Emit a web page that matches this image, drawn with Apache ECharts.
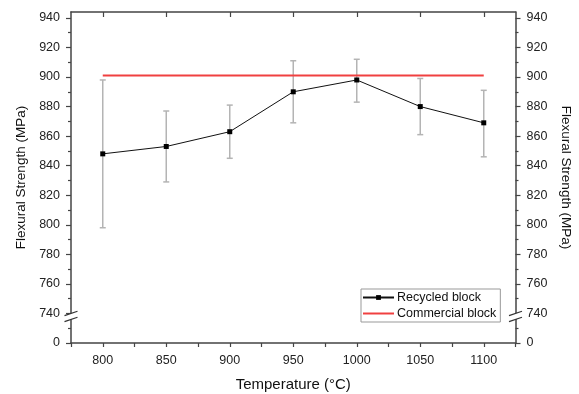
<!DOCTYPE html>
<html><head><meta charset="utf-8">
<script src="https://cdn.jsdelivr.net/npm/echarts@6/dist/echarts.min.js"></script>
<style>html,body{margin:0;padding:0;background:#fff}#c{width:579px;height:394px}</style>
</head><body><div id="c"></div>
<script>
// ---- data ----
const temperatures = [800, 850, 900, 950, 1000, 1050, 1100];
const recycled = [848, 853, 863, 890, 898, 880, 869];
const errLow = [798, 829, 845, 869, 883, 861, 846];
const errHigh = [898, 877, 881, 911, 912, 899, 891];
const commercialValue = 901;
const commercialRange = [800, 1100];
const xTickLabels = ['800', '850', '900', '950', '1000', '1050', '1100'];
const yTickLabels = ['0', '740', '760', '780', '800', '820', '840', '860', '880', '900', '920', '940'];
const yTickValues = [720, 740, 760, 780, 800, 820, 840, 860, 880, 900, 920, 940]; // 720 stands for the broken "0"
const breakValue = 738;

const FONT = 'Liberation Sans, Arial, sans-serif';
const axisColor = '#444';

const yLabelMap = {};
yTickValues.forEach((v, i) => { yLabelMap[v] = yTickLabels[i]; });
const xLabelMap = {};
temperatures.forEach((v, i) => { xLabelMap[v] = xTickLabels[i]; });

function yAxisDef(pos) {
  return {
    type: 'value', position: pos, min: 720, max: 944, interval: 20,
    name: 'Flexural Strength (MPa)', nameLocation: 'middle',
    nameGap: pos === 'left' ? 40 : 37,
    nameRotate: pos === 'left' ? 90 : -90,
    nameTextStyle: { fontFamily: FONT, fontSize: 13.5, color: '#111' },
    axisLine: { show: true, onZero: false, lineStyle: { color: axisColor, width: 1.5 } },
    axisTick: { show: true, inside: false, length: 5, customValues: yTickValues, lineStyle: { color: axisColor, width: 1.2 } },
    minorTick: { show: true, splitNumber: 2, length: 3, lineStyle: { color: axisColor, width: 1.2 } },
    axisLabel: { show: true, margin: 11, customValues: yTickValues, fontFamily: FONT, fontSize: 12.5, color: '#222',
      formatter: v => (yLabelMap[v] !== undefined ? yLabelMap[v] : '') },
    splitLine: { show: false }
  };
}

const chart = echarts.init(document.getElementById('c'), null, { renderer: 'canvas' });
chart.setOption({
  backgroundColor: '#fff',
  animation: false,
  grid: { left: 71, right: 63.5, top: 12, bottom: 51, containLabel: false, outerBoundsMode: 'none' },
  legend: {
    data: [
      { name: 'Recycled block' },
      { name: 'Commercial block', itemStyle: { color: 'rgba(0,0,0,0)', borderWidth: 0 } }
    ],
    orient: 'vertical', left: 361, top: 289,
    padding: [1, 4, 1, 1], itemGap: 1, itemWidth: 31, itemHeight: 6,
    borderColor: '#999', borderWidth: 1, backgroundColor: '#fff',
    textStyle: { fontFamily: FONT, fontSize: 12.5, color: '#111', padding: [0, 0, 0, -2], lineHeight: 15 }
  },
  xAxis: [
    {
      type: 'value', position: 'bottom', min: 775, max: 1125, interval: 25,
      name: 'Temperature (\u00B0C)', nameLocation: 'middle', nameGap: 34,
      nameTextStyle: { fontFamily: FONT, fontSize: 15, color: '#111' },
      axisLine: { show: true, onZero: false, lineStyle: { color: axisColor, width: 1.5 } },
      axisTick: { show: true, inside: false, length: 4, lineStyle: { color: axisColor, width: 1.2 } },
      axisLabel: { show: true, margin: 11, customValues: temperatures, fontFamily: FONT, fontSize: 12.5, color: '#222',
        formatter: v => (xLabelMap[v] !== undefined ? xLabelMap[v] : '') },
      splitLine: { show: false }
    },
    {
      type: 'value', position: 'top', min: 775, max: 1125, interval: 25,
      axisLine: { show: true, onZero: false, lineStyle: { color: axisColor, width: 1.5 } },
      axisTick: { show: true, inside: true, length: 5, customValues: temperatures, lineStyle: { color: axisColor, width: 1.2 } },
      axisLabel: { show: false },
      splitLine: { show: false }
    }
  ],
  yAxis: [yAxisDef('left'), yAxisDef('right')],
  series: [
    {
      name: 'errorbars', type: 'custom', xAxisIndex: 0, yAxisIndex: 0, z: 3,
      data: temperatures.map((t, i) => [t, errLow[i], errHigh[i]]),
      renderItem: function (params, api) {
        const x = api.value(0);
        const lo = api.coord([x, api.value(1)]);
        const hi = api.coord([x, api.value(2)]);
        const w = 3;
        const st = { stroke: '#b4b4b4', lineWidth: 1.5 };
        return {
          type: 'group',
          children: [
            { type: 'line', shape: { x1: lo[0], y1: lo[1], x2: hi[0], y2: hi[1] }, style: st },
            { type: 'line', shape: { x1: hi[0] - w, y1: hi[1], x2: hi[0] + w, y2: hi[1] }, style: st },
            { type: 'line', shape: { x1: lo[0] - w, y1: lo[1], x2: lo[0] + w, y2: lo[1] }, style: st }
          ]
        };
      }
    },
    {
      name: 'Commercial block', type: 'line', xAxisIndex: 0, yAxisIndex: 0, z: 4,
      data: commercialRange.map(t => [t, commercialValue]),
      symbol: 'none', color: '#f04040',
      lineStyle: { color: '#f04040', width: 2 }
    },
    {
      name: 'Recycled block', type: 'line', xAxisIndex: 0, yAxisIndex: 0, z: 5,
      data: temperatures.map((t, i) => [t, recycled[i]]),
      symbol: 'rect', symbolSize: 5, color: '#000',
      itemStyle: { color: '#000' },
      lineStyle: { color: '#111', width: 1 }
    },
    {
      name: 'breaks', type: 'custom', xAxisIndex: 0, yAxisIndex: 0, z: 20, clip: false, silent: true,
      data: [[775, breakValue], [1125, breakValue]],
      renderItem: function (params, api) {
        const p = api.coord([api.value(0), api.value(1)]);
        const hw = 6.5, dy = 2.2, gap = 3;
        const st = { stroke: '#333', lineWidth: 1.2 };
        return {
          type: 'group',
          children: [
            { type: 'polygon', shape: { points: [[p[0] - hw, p[1] - gap + dy], [p[0] + hw, p[1] - gap - dy], [p[0] + hw, p[1] + gap - dy], [p[0] - hw, p[1] + gap + dy]] }, style: { fill: '#fff' } },
            { type: 'line', shape: { x1: p[0] - hw, y1: p[1] - gap + dy, x2: p[0] + hw, y2: p[1] - gap - dy }, style: st },
            { type: 'line', shape: { x1: p[0] - hw, y1: p[1] + gap + dy, x2: p[0] + hw, y2: p[1] + gap - dy }, style: st }
          ]
        };
      }
    }
  ]
});
</script>
</body></html>
